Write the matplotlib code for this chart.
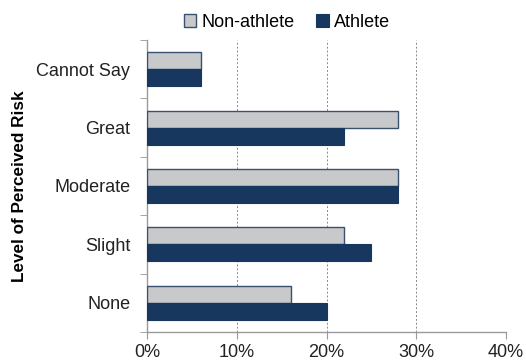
import numpy as np
import matplotlib
matplotlib.use("Agg")
import matplotlib.pyplot as plt
from matplotlib.ticker import FixedLocator, PercentFormatter

plt.rcParams['font.family'] = ['Liberation Sans', 'DejaVu Sans']

# Data (bottom to top)
categories = ['None', 'Slight', 'Moderate', 'Great', 'Cannot Say']
non_athlete = [16, 22, 28, 28, 6]
athlete = [20, 25, 28, 22, 6]

fig = plt.figure(figsize=(5.26, 3.6), dpi=100)
ax = fig.add_axes([0.2795, 0.0778, 0.6825, 0.8111])

y = np.arange(len(categories))
h = 0.29
ax.barh(y + h / 2, non_athlete, height=h, color='#C8C9CB', edgecolor='#3A5070',
        linewidth=1.0, label='Non-athlete', zorder=3)
ax.barh(y - h / 2, athlete, height=h, color='#17375E', edgecolor='#17375E',
        linewidth=0.8, label='Athlete', zorder=3)

ax.set_xlim(0, 40)
ax.set_ylim(-0.5, len(categories) - 0.5)
ax.set_xticks([0, 10, 20, 30, 40])
ax.xaxis.set_major_formatter(PercentFormatter(decimals=0))

ax.set_yticks(y)
ax.set_yticklabels(categories)
ax.yaxis.set_minor_locator(FixedLocator(np.arange(-0.5, len(categories), 1.0)))
ax.tick_params(axis='y', which='major', length=0, pad=12, labelsize=13, colors='#222222')
ax.tick_params(axis='y', which='minor', length=5, color='#999999', direction='out')
ax.tick_params(axis='x', which='major', length=5, color='#999999', direction='out',
               labelsize=13, labelcolor='#222222', pad=4)

ax.grid(axis='x', linestyle=(0, (2, 2)), color='#888888', linewidth=0.7, zorder=0)
for s in ['top', 'right']:
    ax.spines[s].set_visible(False)
for s in ['left', 'bottom']:
    ax.spines[s].set_color('#999999')
    ax.spines[s].set_linewidth(1.0)

ax.set_ylabel('Level of Perceived Risk', fontsize=12.3, fontweight='bold')
ax.yaxis.set_label_coords(-0.335, 0.5)

ax.legend(loc='lower center', bbox_to_anchor=(0.39, 1.0), ncol=2, frameon=False,
          fontsize=13, handlelength=0.7, handleheight=0.7, handletextpad=0.3,
          columnspacing=1.2, borderaxespad=0.1)

fig.savefig('out.png', dpi=100)
